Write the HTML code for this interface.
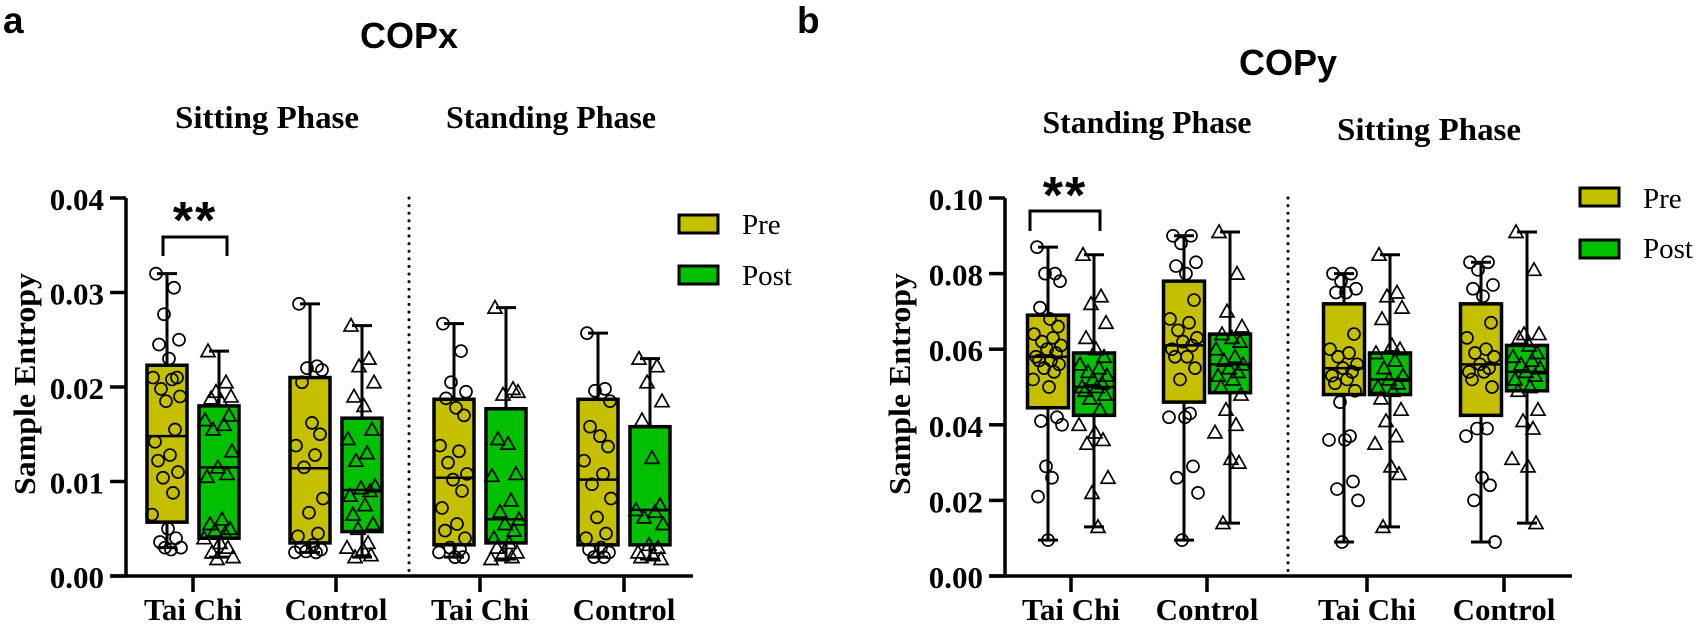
<!DOCTYPE html>
<html><head><meta charset="utf-8"><style>
html,body{margin:0;padding:0;background:#fff;}
svg{display:block;}
.tk{font-family:"Liberation Serif",serif;font-weight:bold;font-size:31px;}
.ph{font-family:"Liberation Serif",serif;font-weight:bold;font-size:32px;}
.lg{font-family:"Liberation Serif",serif;font-size:29px;}
.tt{font-family:"Liberation Sans",sans-serif;font-weight:bold;}
</style></head><body>
<svg id="fig" width="1705" height="629" viewBox="0 0 1705 629">
<text x="3" y="33" class="tt" font-size="37">a</text>
<text x="409" y="48" class="tt" font-size="36" text-anchor="middle">COPx</text>
<text x="267" y="128" class="ph" text-anchor="middle" textLength="184" lengthAdjust="spacingAndGlyphs">Sitting Phase</text>
<text x="551" y="128" class="ph" text-anchor="middle" textLength="210" lengthAdjust="spacingAndGlyphs">Standing Phase</text>
<text x="797" y="33" class="tt" font-size="37">b</text>
<text x="1288" y="75" class="tt" font-size="36" text-anchor="middle">COPy</text>
<text x="1147" y="133" class="ph" text-anchor="middle" textLength="209" lengthAdjust="spacingAndGlyphs">Standing Phase</text>
<text x="1429" y="140" class="ph" text-anchor="middle" textLength="184" lengthAdjust="spacingAndGlyphs">Sitting Phase</text>
<text transform="translate(35,384) rotate(-90)" class="tk" font-size="30" text-anchor="middle" textLength="222" lengthAdjust="spacingAndGlyphs">Sample Entropy</text>
<text transform="translate(910,384) rotate(-90)" class="tk" font-size="30" text-anchor="middle" textLength="222" lengthAdjust="spacingAndGlyphs">Sample Entropy</text>
<g id="legA">
<rect x="679" y="215" width="39" height="18" fill="#c4c000" stroke="#000" stroke-width="3"/>
<text x="742" y="234" class="lg">Pre</text>
<rect x="679" y="266" width="39" height="18" fill="#00c000" stroke="#000" stroke-width="3"/>
<text x="742" y="285" class="lg">Post</text>
</g>
<g id="legB">
<rect x="1580" y="188" width="39" height="18" fill="#c4c000" stroke="#000" stroke-width="3"/>
<text x="1643" y="208" class="lg">Pre</text>
<rect x="1580" y="240" width="39" height="18" fill="#00c000" stroke="#000" stroke-width="3"/>
<text x="1643" y="258" class="lg">Post</text>
</g>
</svg>
<script>
// ---- Panel a (COPx) data ----
const aCategories = ["Tai Chi","Control","Tai Chi","Control"];
const aTicks = [0,0.01,0.02,0.03,0.04];
const aTickLabels = ["0.00","0.01","0.02","0.03","0.04"];
// [min, q1, median, q3, max] : Pre then Post per category
const aPreStats = [[0.003,0.0057,0.0148,0.0223,0.032],[0.0025,0.0035,0.0114,0.021,0.0288],[0.002,0.0033,0.0104,0.0187,0.0267],[0.002,0.0033,0.0102,0.0187,0.0257]];
const aPostStats = [[0.002,0.004,0.0115,0.018,0.0238],[0.002,0.0047,0.0091,0.0167,0.0265],[0.0018,0.0035,0.006,0.0177,0.0284],[0.0018,0.0033,0.007,0.0158,0.023]];
const aPrePts = [
 [0.032,0.0305,0.0277,0.025,0.0245,0.023,0.021,0.021,0.0208,0.0198,0.019,0.0185,0.0155,0.0142,0.0128,0.0122,0.011,0.0104,0.0088,0.0065,0.005,0.004,0.0036,0.003,0.003,0.0028],
 [0.0288,0.0222,0.022,0.0218,0.0205,0.0162,0.015,0.0138,0.0128,0.0115,0.0082,0.0067,0.0045,0.0042,0.0033,0.003,0.0028,0.0026,0.0025,0.0025],
 [0.0267,0.0238,0.0205,0.0195,0.0188,0.0178,0.017,0.0138,0.0132,0.012,0.0108,0.0102,0.009,0.0072,0.0055,0.0048,0.004,0.003,0.0028,0.0025,0.002,0.002],
 [0.0257,0.0198,0.0196,0.0185,0.0158,0.0148,0.0137,0.0122,0.0108,0.0097,0.0082,0.0062,0.0045,0.004,0.003,0.0028,0.0025,0.002,0.002]];
const aPostPts = [
 [0.0238,0.0205,0.0195,0.019,0.0188,0.0185,0.017,0.0165,0.016,0.0155,0.0132,0.0115,0.0108,0.0105,0.006,0.0055,0.005,0.0048,0.0045,0.004,0.0035,0.003,0.0025,0.002,0.0018],
 [0.0265,0.023,0.0222,0.0205,0.019,0.018,0.0155,0.0145,0.013,0.0122,0.0095,0.0093,0.009,0.0085,0.0075,0.0065,0.0055,0.005,0.0035,0.003,0.0028,0.0022,0.002],
 [0.0284,0.0198,0.0192,0.0195,0.0145,0.014,0.0108,0.0106,0.008,0.0068,0.006,0.0055,0.0048,0.004,0.0035,0.003,0.0025,0.0022,0.002,0.0018],
 [0.023,0.0222,0.0205,0.0185,0.0165,0.0125,0.0075,0.007,0.0068,0.0062,0.0055,0.0033,0.003,0.0025,0.0022,0.002,0.0018]];
// ---- Panel b (COPy) data ----
const bCategories = ["Tai Chi","Control","Tai Chi","Control"];
const bTicks = [0,0.02,0.04,0.06,0.08,0.10];
const bTickLabels = ["0.00","0.02","0.04","0.06","0.08","0.10"];
const bPreStats = [[0.0095,0.0445,0.058,0.069,0.087],[0.0095,0.046,0.061,0.078,0.090],[0.009,0.048,0.055,0.072,0.080],[0.009,0.0425,0.056,0.072,0.083]];
const bPostStats = [[0.013,0.0425,0.050,0.059,0.085],[0.014,0.0485,0.056,0.064,0.091],[0.013,0.048,0.052,0.059,0.085],[0.014,0.049,0.054,0.061,0.091]];
const bPrePts = [
 [0.087,0.080,0.080,0.078,0.071,0.068,0.066,0.064,0.063,0.062,0.061,0.060,0.059,0.058,0.057,0.057,0.056,0.055,0.054,0.052,0.050,0.042,0.041,0.040,0.029,0.026,0.021,0.0095],
 [0.090,0.090,0.088,0.083,0.082,0.080,0.073,0.068,0.067,0.065,0.063,0.062,0.061,0.060,0.058,0.058,0.055,0.052,0.043,0.042,0.042,0.029,0.026,0.022,0.0095],
 [0.080,0.080,0.078,0.076,0.075,0.075,0.064,0.060,0.059,0.058,0.056,0.055,0.054,0.053,0.052,0.051,0.049,0.046,0.037,0.036,0.036,0.025,0.023,0.020,0.009],
 [0.083,0.083,0.081,0.077,0.076,0.074,0.067,0.063,0.060,0.059,0.058,0.056,0.055,0.054,0.054,0.052,0.050,0.039,0.039,0.037,0.026,0.024,0.020,0.009]];
const bPostPts = [
 [0.085,0.074,0.072,0.067,0.063,0.060,0.058,0.056,0.055,0.054,0.053,0.052,0.051,0.050,0.050,0.049,0.048,0.047,0.044,0.040,0.038,0.036,0.035,0.026,0.022,0.013],
 [0.091,0.080,0.070,0.066,0.064,0.063,0.062,0.060,0.058,0.057,0.056,0.055,0.054,0.053,0.052,0.050,0.048,0.044,0.040,0.038,0.031,0.030,0.014],
 [0.085,0.075,0.074,0.071,0.068,0.061,0.060,0.059,0.057,0.055,0.053,0.052,0.051,0.050,0.049,0.047,0.044,0.041,0.037,0.035,0.029,0.027,0.013],
 [0.091,0.081,0.064,0.064,0.063,0.061,0.059,0.058,0.057,0.056,0.055,0.054,0.053,0.052,0.050,0.049,0.044,0.041,0.039,0.031,0.029,0.014]];

const NS="http://www.w3.org/2000/svg";
const svg=document.getElementById('fig');
const jit=[-11,7,-3,12,-8,2,10,-14,5,-6,13,-1,8,-12,3,-9,11,-4,6,-15,1,9,-7,14,-2,4,-10,0];
function mk(tag,attrs,parent){const e=document.createElementNS(NS,tag);for(const k in attrs)e.setAttribute(k,attrs[k]);(parent||svg).appendChild(e);return e;}

function panel(cfg){
  const y=v=>cfg.y0-(v/cfg.ymax)*(cfg.y0-cfg.y1);
  const g=mk('g',{});
  
  
  const ya=mk('line',{x1:cfg.ax,y1:y(cfg.ymax),x2:cfg.ax,y2:cfg.y0+1.5,stroke:'#000','stroke-width':3.5},g);
  
  
  const xa=mk('line',{x1:cfg.ax-16,y1:cfg.y0,x2:cfg.axEnd,y2:cfg.y0,stroke:'#000','stroke-width':3.5},g);
  
  
  cfg.ticks.forEach((t,i)=>{
    mk('line',{x1:cfg.ax-16,y1:y(t),x2:cfg.ax,y2:y(t),stroke:'#000','stroke-width':3.5},g);
    const tl=mk('text',{x:cfg.ax-22,y:y(t)+12,'text-anchor':'end',class:'tk'},g);
    tl.textContent=cfg.tickLabels[i];
    
    
  });
  const dv=mk('line',{x1:cfg.div,y1:y(cfg.ymax),x2:cfg.div,y2:cfg.y0,stroke:'#000','stroke-width':3,'stroke-dasharray':'0.1 7.5','stroke-linecap':'round'},g);
  
  
  cfg.cats.forEach((c,i)=>{
    const cx=cfg.catX[i];
    mk('line',{x1:cx,y1:cfg.y0,x2:cx,y2:cfg.y0+16,stroke:'#000','stroke-width':3.5},g);
    const cl=mk('text',{x:cx,y:cfg.y0+44,'text-anchor':'middle',class:'tk'},g);
    cl.textContent=c;
    
    
    [[cfg.pre[i],cfg.prePts[i],'#c4c000',-cfg.off,'circle'],[cfg.post[i],cfg.postPts[i],'#00c000',cfg.off,'tri']].forEach(([s,pts,col,o,mkr],k)=>{
      const bx=cx+o, w=cfg.bw;
      const bg=mk('g',{},g);
      
      
      mk('rect',{x:bx-w/2,y:y(s[3]),width:w,height:y(s[1])-y(s[3]),fill:col,stroke:'#000','stroke-width':3.5},bg);
      mk('line',{x1:bx-w/2,y1:y(s[2]),x2:bx+w/2,y2:y(s[2]),stroke:'#000','stroke-width':2.5},bg);
      mk('line',{x1:bx,y1:y(s[4]),x2:bx,y2:y(s[3]),stroke:'#000','stroke-width':3},bg);
      mk('line',{x1:bx,y1:y(s[1]),x2:bx,y2:y(s[0]),stroke:'#000','stroke-width':3},bg);
      mk('line',{x1:bx-10,y1:y(s[4]),x2:bx+10,y2:y(s[4]),stroke:'#000','stroke-width':3},bg);
      mk('line',{x1:bx-10,y1:y(s[0]),x2:bx+10,y2:y(s[0]),stroke:'#000','stroke-width':3},bg);
      pts.forEach((v,j)=>{
        const px=bx+jit[j%jit.length], py=y(v);
        let m;
        if(mkr==='circle') m=mk('circle',{cx:px,cy:py,r:6,fill:'none',stroke:'#000','stroke-width':1.7},bg);
        else m=mk('polygon',{points:`${px},${py-7} ${px-7},${py+5.5} ${px+7},${py+5.5}`,fill:'none',stroke:'#000','stroke-width':1.7},bg);
        
        
      });
    });
  });
  const s=cfg.sig;
  const br=mk('path',{d:`M${s.x1},${s.yb} L${s.x1},${s.yt} L${s.x2},${s.yt} L${s.x2},${s.yb}`,fill:'none',stroke:'#000','stroke-width':3},g);
  
  
  const st=mk('text',{x:(s.x1+s.x2)/2,y:s.ys,'text-anchor':'middle',class:'tt','font-size':52,'letter-spacing':'2'},g);
  st.textContent='**';
  
  
}
panel({id:'copx',ax:126,axEnd:693,y0:576,y1:198,ymax:0.04,ticks:aTicks,tickLabels:aTickLabels,cats:aCategories,
  catX:[193,336,480,624],off:26,bw:40,div:409,pre:aPreStats,post:aPostStats,prePts:aPrePts,postPts:aPostPts,
  sig:{x1:163,x2:227,yt:237,yb:256,ys:238}});
panel({id:'copy',ax:1005,axEnd:1572,y0:576,y1:198,ymax:0.10,ticks:bTicks,tickLabels:bTickLabels,cats:bCategories,
  catX:[1071,1207,1367,1504],off:23,bw:41,div:1288,pre:bPreStats,post:bPostStats,prePts:bPrePts,postPts:bPostPts,
  sig:{x1:1030,x2:1100,yt:211,yb:231,ys:213}});
</script>
</body></html>
